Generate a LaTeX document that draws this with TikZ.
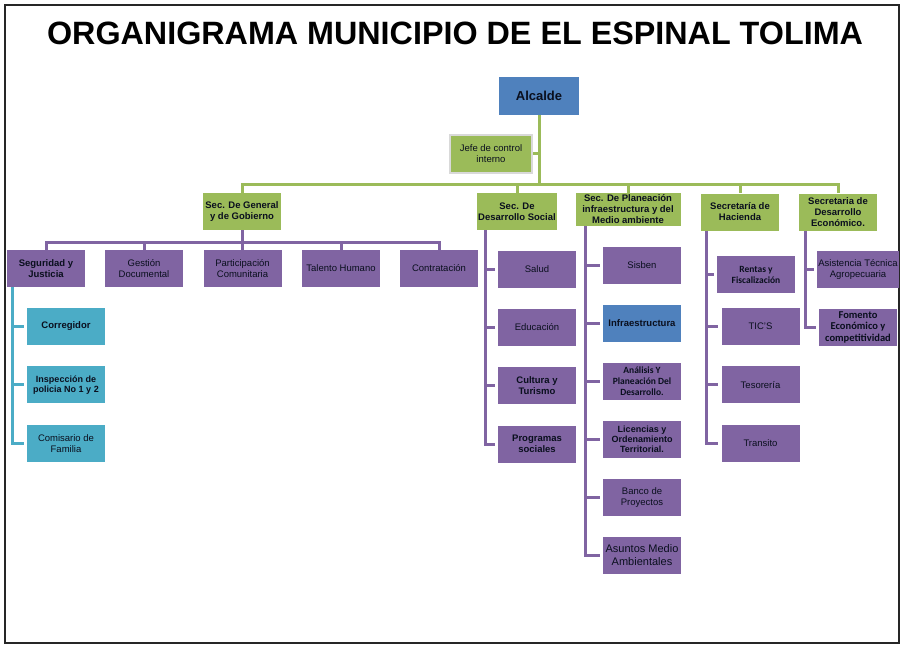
\documentclass[tikz,border=0pt]{standalone}
\usepackage{fontspec}
\setmainfont{Liberation Sans}
\newfontfamily\calfont{Carlito}
\usetikzlibrary{positioning}
\definecolor{ink}{HTML}{0A0F1E}
\definecolor{verde}{HTML}{9BBB59}
\definecolor{morado}{HTML}{8064A2}
\definecolor{turq}{HTML}{4BACC6}
\definecolor{azul}{HTML}{4F81BD}

\begin{document}
\begin{tikzpicture}[x=1pt,y=-1pt,node distance=21pt,
 box/.style={rectangle,align=center,minimum width=78pt,minimum height=37pt,inner sep=1pt,text=ink,font=\fontsize{9.5}{11}\selectfont},
 sec/.style={box,fill=verde,font=\fontsize{9.5}{11}\selectfont\bfseries},
 dep/.style={box,fill=morado},
 bold/.style={font=\fontsize{9.5}{11}\selectfont\bfseries},
 cal/.style={font=\fontsize{9.5}{11}\selectfont\calfont\bfseries},
 gline/.style={draw=verde,line width=3pt},
 pline/.style={draw=morado,line width=3pt},
 tline/.style={draw=turq,line width=3pt},
 stub/.style={shorten >=3pt}]
\useasboundingbox (0,0) rectangle (904,649);
\draw[line width=1.4pt,black!85] (5,5) rectangle (899,643);
\node[font=\fontsize{32.3}{36}\selectfont\bfseries] (titulo) at (455,33) {ORGANIGRAMA MUNICIPIO DE EL ESPINAL TOLIMA};
% alcalde y jefe
\node[box,fill=azul,font=\fontsize{13}{15}\selectfont\bfseries,minimum width=80pt,minimum height=38pt] (alc) at (539,96) {Alcalde};
\node[box,fill=verde,draw=black!15,line width=2pt,minimum width=82pt,minimum height=38pt] (jefe) at (491,153.5) {Jefe de control\\interno};
% secretarias
\node[sec] (gen) at (242,211.5) {Sec. De General\\y de Gobierno};
\node[sec] (soc) at (517,211.5) {Sec. De\\Desarrollo Social};
\node[sec,minimum width=105pt,minimum height=33pt] (plan) at (628,209.5) {Sec. De Planeación\\infraestructura y del\\Medio ambiente};
\node[sec] (hac) at (740,212) {Secretaría de\\Hacienda};
\node[sec] (eco) at (838,212) {Secretaria de\\Desarrollo\\Económico.};
% general y de gobierno
\node[dep,bold] (seg) at (46,268.5) {Seguridad y\\Justicia};
\node[dep] (ges) at (144,268.5) {Gestión\\Documental};
\node[dep] (par) at (242.5,268.5) {Participación\\Comunitaria};
\node[dep] (tal) at (341,268.5) {Talento Humano};
\node[dep] (con) at (439,268.5) {Contratación};
\node[box,fill=turq,bold] (corr) at (66,326.5) {Corregidor};
\node[box,fill=turq,font=\fontsize{9}{10.5}\selectfont\bfseries,below=of corr] (insp) {Inspección de\\policia No 1 y 2};
\node[box,fill=turq,below=of insp] (comi) {Comisario de\\Familia};
% desarrollo social
\node[dep] (sal) at (537,269) {Salud};
\node[dep,below=of sal] (edu) {Educación};
\node[dep,bold,below=of edu] (cul) {Cultura y\\Turismo};
\node[dep,bold,below=of cul] (prog) {Programas\\sociales};
% planeacion
\node[dep] (sis) at (642,265.5) {Sisben};
\node[box,fill=azul,bold,below=20.5pt of sis] (inf) {Infraestructura};
\node[dep,cal,below=20.5pt of inf] (ana) {Análisis Y\\Planeación Del\\Desarrollo.};
\node[dep,font=\fontsize{9}{10}\selectfont\bfseries,below=20.5pt of ana] (lic) {Licencias y\\Ordenamiento\\Territorial.};
\node[dep,below=20.5pt of lic] (ban) {Banco de\\Proyectos};
\node[dep,font=\fontsize{11}{13}\selectfont,below=20.5pt of ban] (asu) {Asuntos Medio\\Ambientales};
% hacienda
\node[dep,cal] (ren) at (756,274.5) {Rentas y\\Fiscalización};
\node[dep] (tic) at (760.5,326.5) {TIC'S};
\node[dep,below=of tic] (tes) {Tesorería};
\node[dep,below=of tes] (tra) {Transito};
% desarrollo economico
\node[dep] (asi) at (858,269) {Asistencia Técnica\\Agropecuaria};
\node[dep,font=\fontsize{10.5}{11.5}\selectfont\calfont\bfseries,below=of asi] (fom) {Fomento\\Económico y\\competitividad};
% lineas
\coordinate (bus) at (540,184);
\coordinate (gbus) at (242,242);
\draw[gline] (alc) -- (alc |- bus);
\draw[gline] (jefe) -- (jefe -| alc);
\draw[gline] (gen) -- (gen |- bus) -- (eco |- bus) -- (eco);
\foreach \s in {soc,plan,hac} \draw[gline] (\s |- bus) -- (\s);
\draw[pline] (gen) -- (gen |- gbus);
\draw[pline] (seg) -- (seg |- gbus) -- (con |- gbus) -- (con);
\foreach \d in {ges,par,tal} \draw[pline] (\d |- gbus) -- (\d);
\coordinate (segv) at ([xshift=6pt]seg.south west);
\coordinate (socv) at ([xshift=8pt]soc.south west);
\coordinate (planv) at ([xshift=10.5pt]plan.south west);
\coordinate (hacv) at ([xshift=6pt]hac.south west);
\coordinate (ecov) at ([xshift=7pt]eco.south west);
\draw[tline,stub] (segv) |- (comi.west);
\foreach \d in {corr,insp} \draw[tline,stub] (segv |- \d.west) -- (\d.west);
\draw[pline,stub] (socv) |- (prog.west);
\foreach \d in {sal,edu,cul} \draw[pline,stub] (socv |- \d.west) -- (\d.west);
\draw[pline,stub] (planv) |- (asu.west);
\foreach \d in {sis,inf,ana,lic,ban} \draw[pline,stub] (planv |- \d.west) -- (\d.west);
\draw[pline,stub] (hacv) |- (tra.west);
\foreach \d in {ren,tic,tes} \draw[pline,stub] (hacv |- \d.west) -- (\d.west);
\draw[pline,stub] (ecov) |- (fom.west);
\draw[pline,stub] (ecov |- asi.west) -- (asi.west);
\end{tikzpicture}
\end{document}
